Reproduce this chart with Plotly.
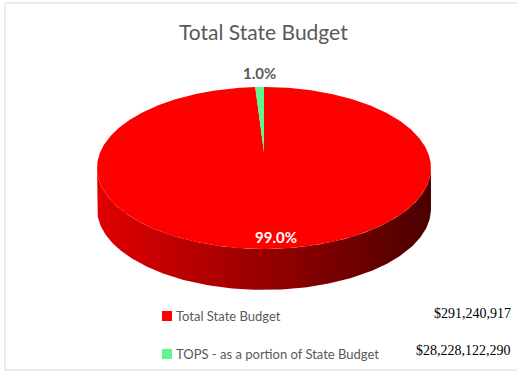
import numpy as np
import plotly.graph_objects as go

# ---- data ----
categories = ["Total State Budget", "TOPS - as a portion of State Budget"]
slice_values = [28228122290, 291240917]
slice_colors = ["#ff0000", "#61f590"]
legend_amounts = [291240917, 28228122290]
chart_title = "Total State Budget"

# ---- 3D pie geometry (pixel space, y grows downward) ----
W, H = 517, 371
CX, CY = 264.0, 152.0      # projected centre of the top face
A, B = 163.7, 77.8         # horizontal / vertical radius scale
K = 0.197                  # perspective strength
DEPTH = 41.0               # thickness of the pie wall
FONT = "Lato"
GREY = "#595959"


def project(u, v, drop=0.0):
    s = 1.0 + K * v
    return CX + A * u / s, CY - B * v / s + drop


def rim(frac, r=1.0, drop=0.0):
    phi = 2 * np.pi * np.asarray(frac)
    return project(r * np.sin(phi), r * np.cos(phi), drop)


fig = go.Figure()

# side wall (front half of the cylinder)
t_r = -np.arcsin(K)
t_l = -np.pi + np.arcsin(K)
th = np.linspace(t_r, t_l, 240)
tx, ty = project(np.cos(th), np.sin(th), 0.0)
bx, by = project(np.cos(th), np.sin(th), DEPTH)
side_x = np.concatenate([tx, bx[::-1]])
side_y = np.concatenate([ty, by[::-1]])
fig.add_trace(go.Scatter(
    x=side_x, y=side_y, mode="lines", fill="toself",
    line=dict(width=0, color="rgba(0,0,0,0)"),
    fillgradient=dict(type="horizontal",
                      colorscale=[[0, "#e00000"], [0.5, "#980000"], [1, "#4a0000"]]),
    hoverinfo="skip", showlegend=False,
))

# top face slices, clockwise from 12 o'clock
total = float(sum(slice_values))
fracs = np.cumsum([0.0] + [v / total for v in slice_values])
for i, name in enumerate(categories):
    f = np.linspace(fracs[i], fracs[i + 1], max(3, int(720 * (fracs[i + 1] - fracs[i])) + 2))
    ax, ay = rim(f)
    px = np.concatenate([[CX], ax, [CX]])
    py = np.concatenate([[CY], ay, [CY]])
    fig.add_trace(go.Scatter(
        x=px, y=py, mode="lines", fill="toself", fillcolor=slice_colors[i],
        line=dict(width=0, color=slice_colors[i]), name=name,
        hoverinfo="name", showlegend=False,
    ))

# data labels
pcts = [100 * v / total for v in slice_values]
mids = [(fracs[i] + fracs[i + 1]) / 2 for i in range(len(slice_values))]

lx, ly = rim(mids[0], r=0.9)
fig.add_annotation(x=float(lx), y=float(ly), xref="x", yref="y", text=f"<b>{pcts[0]:.1f}%</b>",
                   showarrow=False, xshift=6, font=dict(family=FONT, size=15, color="white"))
lx, ly = rim(mids[1], r=1.0)
fig.add_annotation(x=float(lx), y=float(ly), xref="x", yref="y", text=f"<b>{pcts[1]:.1f}%</b>",
                   showarrow=False, yshift=14, font=dict(family=FONT, size=15, color=GREY))

# title
fig.add_annotation(x=263, y=31, xref="x", yref="y", text=chart_title, showarrow=False,
                   font=dict(family=FONT, size=21, color=GREY))

# legend rows with amounts
row_y = [316, 354]
amount_y = [313, 350]
for i, name in enumerate(categories):
    fig.add_shape(type="rect", xref="x", yref="y", x0=162, x1=172, y0=row_y[i] - 5, y1=row_y[i] + 5,
                  fillcolor=slice_colors[i], line=dict(width=0))
    fig.add_annotation(x=174, y=row_y[i], xref="x", yref="y", text=name, showarrow=False,
                       xanchor="left", font=dict(family=FONT, size=13, color=GREY))
    fig.add_annotation(x=513, y=amount_y[i], xref="x", yref="y", text=f"${legend_amounts[i]:,}",
                       showarrow=False, xanchor="right",
                       font=dict(family="Liberation Serif", size=14, color="black"))

# chart frame (open on the right)
frame = dict(color="#d9d9d9", width=1)
fig.add_shape(type="line", xref="x", yref="y", x0=5, x1=W, y0=3, y1=3, line=frame, layer="below")
fig.add_shape(type="line", xref="x", yref="y", x0=5, x1=5, y0=3, y1=370, line=frame, layer="below")
fig.add_shape(type="line", xref="x", yref="y", x0=5, x1=W, y0=370, y1=370, line=frame, layer="below")

fig.update_layout(
    width=W, height=H, margin=dict(l=0, r=0, t=0, b=0),
    paper_bgcolor="white", plot_bgcolor="white",
    xaxis=dict(range=[0, W], visible=False, fixedrange=True),
    yaxis=dict(range=[H, 0], visible=False, fixedrange=True),
    showlegend=False,
)

fig.write_html("out.html")
